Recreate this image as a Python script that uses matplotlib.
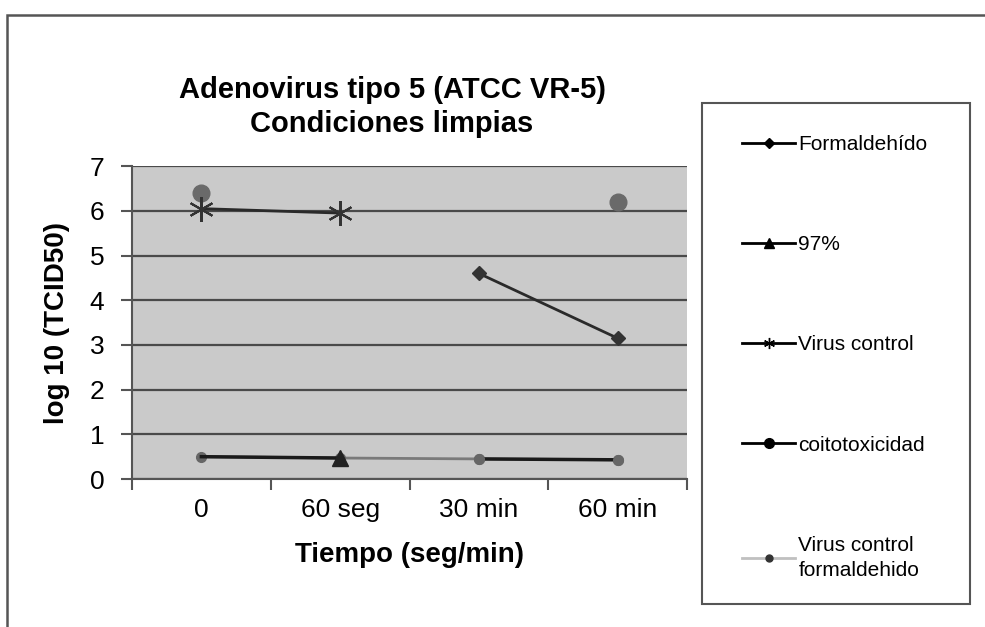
"""
Adenovirus tipo 5 - condiciones limpias
"""
import numpy as np
import matplotlib
matplotlib.use('Agg')
import matplotlib.pyplot as plt
from matplotlib.lines import Line2D
from matplotlib.patches import Rectangle

plt.rcParams['font.family'] = ['Liberation Sans', 'DejaVu Sans']

nan = np.nan
categorias = ['0', '60 seg', '30 min', '60 min']
formaldehido = [nan, nan, 4.6, 3.15]
pct97 = [0.5, 0.47, nan, nan]
virus_control = [6.05, 5.95, nan, nan]
citotox_alto = [6.4, nan, nan, 6.2]
citotox_bajo = [nan, nan, 0.45, 0.43]
virus_ctrl_form = [0.5, 0.47, 0.45, 0.43]

fig = plt.figure(figsize=(9.85, 6.27), dpi=100)
ax = fig.add_axes([0.134, 0.236, 0.5635, 0.499])
ax.set_facecolor('#cacaca')

x = np.arange(len(categorias))

ax.plot(x, virus_ctrl_form, color='#7a7a7a', lw=2, marker='o', ms=7,
        mfc='#666666', mec='#666666', zorder=3)
ax.plot(x, pct97, color='#1a1a1a', lw=2.5, marker='^', ms=12, markevery=[1],
        mfc='#222222', mec='#222222', zorder=4)
ax.plot(x, citotox_bajo, color='#1a1a1a', lw=2.5, marker='o', ms=7,
        mfc='#666666', mec='#666666', zorder=4)
ax.plot(x, citotox_alto, ls='none', marker='o', ms=12,
        mfc='#6a6a6a', mec='#6a6a6a', zorder=4)
ax.plot(x, virus_control, color='#2a2a2a', lw=2, marker=(6, 2, 0), ms=18,
        mec='#333333', mew=1.5, zorder=4)
ax.plot(x, formaldehido, color='#2a2a2a', lw=2, marker='D', ms=7,
        mfc='#333333', mec='#333333', zorder=4)

ax.set_xlim(-0.5, 3.5)
ax.set_ylim(0, 7)
ax.set_yticks(range(0, 8))
ax.yaxis.grid(True, color='#4a4a4a', lw=1.6)
ax.set_axisbelow(True)
ax.set_xticks(np.arange(-0.5, 4, 1))
ax.set_xticklabels([])
ax.set_xticks(x, minor=True)
ax.set_xticklabels(categorias, minor=True)
ax.tick_params(axis='x', which='minor', length=0, pad=14, labelsize=19)
ax.tick_params(axis='x', which='major', length=8, width=1.5, color='#555555', direction='out')
ax.tick_params(axis='y', length=8, width=1.5, color='#555555', labelsize=19, pad=12)
for s in ['top', 'right']:
    ax.spines[s].set_visible(False)
for s in ['left', 'bottom']:
    ax.spines[s].set_color('#555555')
    ax.spines[s].set_linewidth(1.5)

ax.set_ylabel('log 10 (TCID50)', fontsize=20, fontweight='bold', labelpad=14)
ax.set_xlabel('Tiempo (seg/min)', fontsize=20, fontweight='bold', labelpad=14)

fig.text(0.398, 0.857, 'Adenovirus tipo 5 (ATCC VR-5)', ha='center', va='center',
         fontsize=21, fontweight='bold')
fig.text(0.398, 0.802, 'Condiciones limpias', ha='center', va='center',
         fontsize=21, fontweight='bold')

# marco exterior y marco de la leyenda
fig.add_artist(Rectangle((0.007, -0.1), 1.2, 1.1 - 15 / 627, transform=fig.transFigure,
                         fill=False, ec='#555555', lw=1.8))
fig.add_artist(Rectangle((0.7127, 0.0367), 0.2721, 0.799, transform=fig.transFigure,
                         fill=False, ec='#555555', lw=1.5))

handles = [
    Line2D([], [], color='black', lw=2, marker='D', ms=5),
    Line2D([], [], color='black', lw=2, marker='^', ms=7),
    Line2D([], [], color='black', lw=2, marker=(6, 2, 0), ms=8),
    Line2D([], [], color='black', lw=2, marker='o', ms=7),
    Line2D([], [], color='#c0c0c0', lw=2, marker='o', ms=5, mfc='#333333', mec='#333333'),
]
labels = ['Formaldehído', '97%', 'Virus control', 'coitotoxicidad',
          'Virus control\nformaldehido']
leg = fig.legend(handles, labels, loc='upper left', bbox_to_anchor=(0.7533, 0.7847),
                 frameon=False, fontsize=15, handlelength=2.55, handletextpad=0.15,
                 labelspacing=3.9, borderpad=0, borderaxespad=0)
for t in leg.get_texts():
    t.set_linespacing(1.4)

fig.savefig('out.png', dpi=100)
